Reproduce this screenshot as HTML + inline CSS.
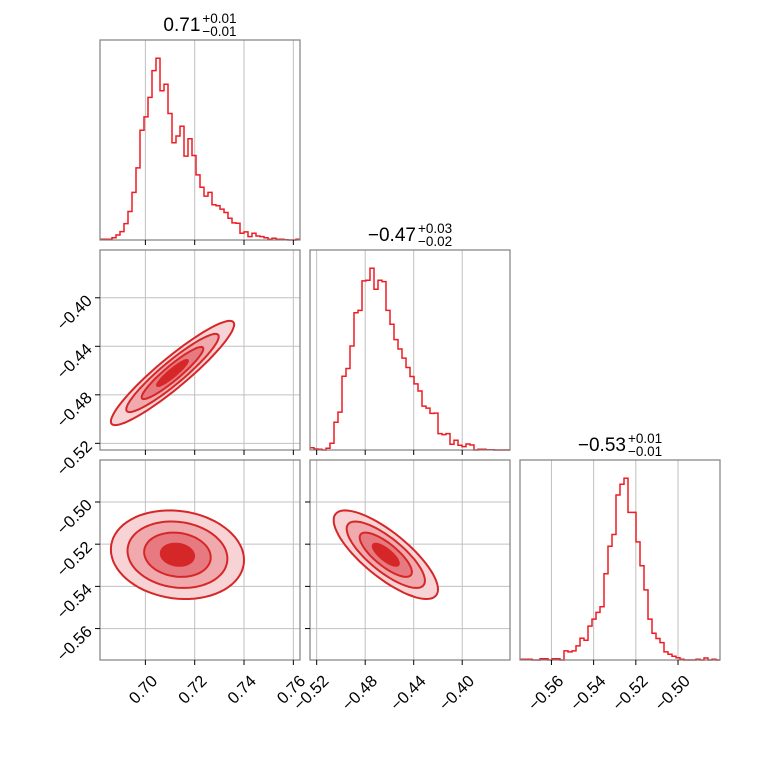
<!DOCTYPE html>
<html><head><meta charset="utf-8"><style>
html,body{margin:0;padding:0;background:#fff;}
svg{display:block;font-family:"Liberation Sans","DejaVu Sans",sans-serif;}
</style></head><body>
<svg id="c" width="760" height="760" viewBox="0 0 760 760"></svg>
<script>
const NS="http://www.w3.org/2000/svg";
// data
const paramNames=["p1","p2","p3"];
const titleMedians=["0.71","\u22120.47","\u22120.53"];
const titlePlus=["+0.01","+0.03","+0.01"];
const titleMinus=["\u22120.01","\u22120.02","\u22120.01"];
const ranges0=[0.6816,0.7627];
const ranges1=[-0.5255,-0.3606];
const ranges2=[-0.5749,-0.4801];
const ticks0=[0.70,0.72,0.74,0.76];
const ticks1=[-0.52,-0.48,-0.44,-0.40];
const ticks2=[-0.56,-0.54,-0.52,-0.50];
const hist0=[2,2,2,7,15,25,49,85,142,215,327,367,425,505,542,445,464,377,290,310,339,250,302,252,194,157,131,142,105,102,92,82,65,51,50,20,24,10,20,12,10,7,2,5,2,2,1,0,0,2];
const hist1=[7,3,2,0,5,20,83,113,220,243,310,409,416,504,506,542,479,506,502,416,375,329,301,274,246,219,197,176,131,125,109,110,49,46,49,17,29,14,10,18,15,0,2,2,1,1,0,0,0,0];
const hist2=[2,2,2,0,0,4,4,0,4,4,0,27,24,27,42,65,59,101,122,142,159,257,339,374,492,524,542,440,440,352,281,209,122,80,64,52,24,17,11,7,2,0,0,0,2,0,6,0,2,0];
// 2D summary: [meanX, meanY, sdX, sdY, corr]
const pair10=[0.711,-0.462,0.0125,0.0215,0.93];
const pair20=[0.713,-0.525,0.0135,0.0105,-0.12];
const pair21=[-0.463,-0.525,0.0215,0.0105,-0.78];
const levels=[2,1.5,1,0.5];
const levelFills=["#f7d3d5","#f0a9ad","#e77a80","#d62728"];

const ranges=[ranges0,ranges1,ranges2];
const ticks=[ticks0,ticks1,ticks2];
const hists=[hist0,hist1,hist2];
const X0=[100,310,520],Y0=[40,250,460],S=200;
const svg=document.getElementById('c');
function el(t,a,p){const e=document.createElementNS(NS,t);for(const k in a)e.setAttribute(k,a[k]);(p||svg).appendChild(e);return e;}
function sx(i,v){const r=ranges[i];return X0[i]+(v-r[0])/(r[1]-r[0])*S;}
function sy(row,v){const r=ranges[row];return Y0[row]+S-(v-r[0])/(r[1]-r[0])*S;}
function fmt(v){const s=v.toFixed(2);return s.replace('-','\u2212');}

function panel(row,col){
  const g=el('g',{});
  
  
  const x0=X0[col],y0=Y0[row];
  ticks[col].forEach(t=>{const x=sx(col,t);const l=el('line',{x1:x,x2:x,y1:y0,y2:y0+S,stroke:'#c0c0c0','stroke-width':1},g);});
  if(row!==col){ticks[row].forEach(t=>{const y=sy(row,t);const l=el('line',{x1:x0,x2:x0+S,y1:y,y2:y,stroke:'#c0c0c0','stroke-width':1},g);});}
  return g;
}
function frame(row,col,g){
  const r=el('rect',{x:X0[col],y:Y0[row],width:S,height:S,fill:'none',stroke:'#808080','stroke-width':1.2},g);
  
  
  ticks[col].forEach(t=>{const x=sx(col,t);const l=el('line',{x1:x,x2:x,y1:Y0[row]+S,y2:Y0[row]+S+5,stroke:'#000','stroke-width':1},g);});
  if(row!==col && col<=1){ticks[row].forEach(t=>{const y=sy(row,t);const l=el('line',{x1:X0[col]-5,x2:X0[col],y1:y,y2:y,stroke:'#000','stroke-width':1},g);});}
}
for(let i=0;i<3;i++){
  const g=panel(i,i);
  const h=hists[i];const mx=Math.max(...h)*1.1;const n=h.length;
  const r=ranges[i];const bw=(r[1]-r[0])/n;
  let d='';
  for(let k=0;k<n;k++){
    const xa=sx(i,r[0]+k*bw),xb=sx(i,r[0]+(k+1)*bw);
    const y=Y0[i]+S-h[k]/mx*S;
    d+=(k===0?'M':'L')+xa.toFixed(1)+','+y.toFixed(1)+'L'+xb.toFixed(1)+','+y.toFixed(1);
  }
  const p=el('path',{d:d,fill:'none',stroke:'#ee1c23','stroke-width':1.5},g);
  
  
  frame(i,i,g);
  const t=el('text',{x:0,y:Y0[i]-9,'font-size':19,'text-anchor':'start',fill:'#000'});
  
  
  t.textContent=titleMedians[i];
  const tp=el('text',{x:0,y:Y0[i]-17,'font-size':13.5,fill:'#000'});
  
  
  tp.textContent=titlePlus[i];
  const tm=el('text',{x:0,y:Y0[i]-4,'font-size':13.5,fill:'#000'});
  
  
  tm.textContent=titleMinus[i];
  let w1=titleMedians[i].length*10.5,w2=40;
  try{w1=t.getComputedTextLength()||w1;w2=Math.max(tp.getComputedTextLength(),tm.getComputedTextLength())||w2;}catch(e){}
  const start=X0[i]+S/2-(w1+2+w2)/2;
  t.setAttribute('x',start);
  tp.setAttribute('x',start+w1+2);
  tm.setAttribute('x',start+w1+2);
}
const pairs=[[1,0,pair10],[2,0,pair20],[2,1,pair21]];
pairs.forEach(([row,col,pr])=>{
  const g=panel(row,col);
  levels.forEach((lv,li)=>{
    let d='';
    for(let k=0;k<=72;k++){
      const a=k/72*2*Math.PI;
      const vx=pr[0]+lv*pr[2]*Math.cos(a);
      const vy=pr[1]+lv*pr[3]*(pr[4]*Math.cos(a)+Math.sqrt(1-pr[4]*pr[4])*Math.sin(a));
      d+=(k===0?'M':'L')+sx(col,vx).toFixed(1)+','+sy(row,vy).toFixed(1);
    }
    const p=el('path',{d:d+'Z',fill:levelFills[li],stroke:'#d62728','stroke-width':2,'stroke-linejoin':'round'},g);
    
    
  });
  frame(row,col,g);
});
for(let c=0;c<3;c++){
  ticks[c].forEach(t=>{
    const x=sx(c,t)+13,y=682;
    const e=el('text',{x:0,y:0,'font-size':16.5,'text-anchor':'end',fill:'#000',transform:'translate('+x+','+y+') rotate(-45)'});
    
    
    e.textContent=fmt(t);
  });
}
for(let r=1;r<3;r++){
  ticks[r].forEach(t=>{
    const y=sy(r,t)+4,x=93;
    const e=el('text',{x:0,y:0,'font-size':16.5,'text-anchor':'end',fill:'#000',transform:'translate('+x+','+y+') rotate(-45)'});
    
    
    e.textContent=fmt(t);
  });
}
</script>
</body></html>
